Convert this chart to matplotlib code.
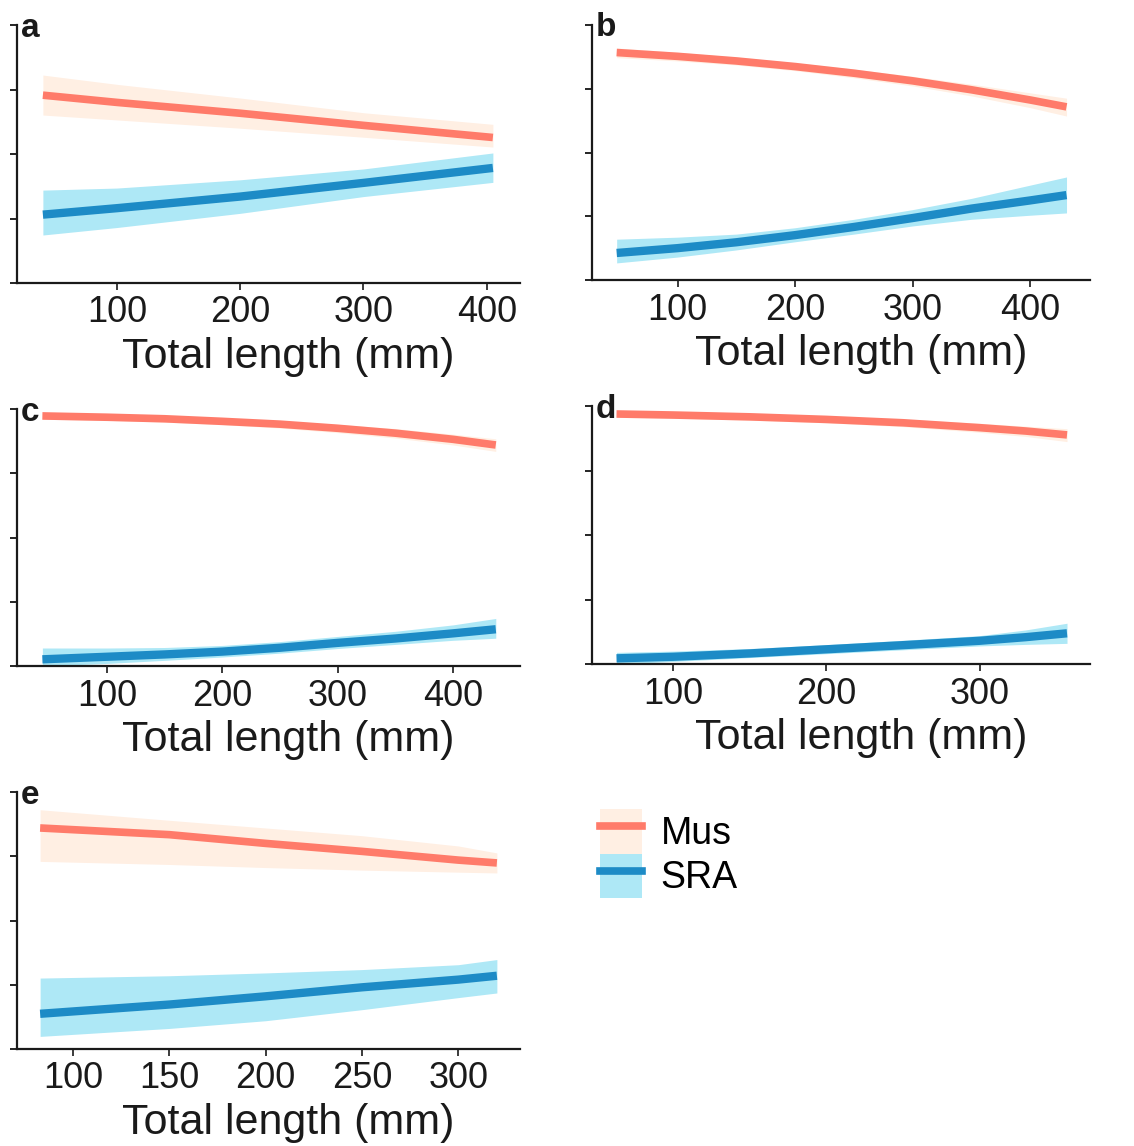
# -*- coding: utf-8 -*-
# Predicted proportion of Mus vs SRA along fish total length, five panels
import matplotlib.pyplot as plt
from matplotlib.patches import Patch
from matplotlib.lines import Line2D
from matplotlib.legend_handler import HandlerTuple

plt.rcParams['font.family'] = ['Liberation Sans', 'DejaVu Sans']

# panel a
a_len = [40, 100, 200, 300, 405]
a_mus = [0.728, 0.700, 0.658, 0.611, 0.564]
a_mus_lo = [0.651, 0.632, 0.600, 0.565, 0.527]
a_mus_hi = [0.806, 0.770, 0.717, 0.660, 0.615]
a_sra = [0.265, 0.290, 0.335, 0.388, 0.446]
a_sra_lo = [0.186, 0.215, 0.270, 0.335, 0.390]
a_sra_hi = [0.360, 0.368, 0.400, 0.442, 0.504]

# panel b
b_len = [48, 100, 150, 200, 250, 300, 350, 400, 431]
b_mus = [0.892, 0.877, 0.859, 0.837, 0.811, 0.781, 0.746, 0.706, 0.679]
b_mus_lo = [0.872, 0.859, 0.843, 0.821, 0.793, 0.761, 0.722, 0.676, 0.643]
b_mus_hi = [0.910, 0.893, 0.874, 0.852, 0.827, 0.799, 0.768, 0.734, 0.713]
b_sra = [0.106, 0.125, 0.148, 0.176, 0.208, 0.243, 0.280, 0.312, 0.333]
b_sra_lo = [0.067, 0.090, 0.118, 0.150, 0.180, 0.212, 0.238, 0.254, 0.263]
b_sra_hi = [0.160, 0.168, 0.180, 0.205, 0.238, 0.276, 0.320, 0.372, 0.404]

# panel c
c_len = [44, 100, 150, 200, 250, 300, 350, 400, 437]
c_mus = [0.973, 0.968, 0.962, 0.952, 0.941, 0.925, 0.906, 0.882, 0.860]
c_mus_lo = [0.960, 0.956, 0.949, 0.939, 0.926, 0.908, 0.887, 0.860, 0.835]
c_mus_hi = [0.985, 0.980, 0.974, 0.965, 0.955, 0.940, 0.924, 0.902, 0.884]
c_sra = [0.026, 0.036, 0.045, 0.056, 0.071, 0.090, 0.107, 0.127, 0.143]
c_sra_lo = [0.000, 0.010, 0.022, 0.035, 0.050, 0.068, 0.084, 0.100, 0.108]
c_sra_hi = [0.070, 0.070, 0.072, 0.080, 0.095, 0.115, 0.135, 0.160, 0.185]

# panel d
d_len = [63, 100, 150, 200, 250, 300, 330, 357]
d_mus = [0.969, 0.965, 0.958, 0.948, 0.935, 0.916, 0.903, 0.888]
d_mus_lo = [0.956, 0.953, 0.945, 0.935, 0.920, 0.898, 0.882, 0.862]
d_mus_hi = [0.981, 0.977, 0.970, 0.960, 0.949, 0.933, 0.922, 0.912]
d_sra = [0.022, 0.028, 0.041, 0.057, 0.073, 0.090, 0.104, 0.119]
d_sra_lo = [0.000, 0.010, 0.025, 0.040, 0.055, 0.070, 0.076, 0.080]
d_sra_hi = [0.045, 0.050, 0.060, 0.075, 0.092, 0.110, 0.132, 0.158]

# panel e
e_len = [83, 150, 200, 250, 300, 320]
e_mus = [0.860, 0.834, 0.800, 0.769, 0.735, 0.724]
e_mus_lo = [0.730, 0.718, 0.706, 0.696, 0.688, 0.685]
e_mus_hi = [0.931, 0.890, 0.860, 0.830, 0.790, 0.763]
e_sra = [0.137, 0.173, 0.205, 0.240, 0.270, 0.285]
e_sra_lo = [0.049, 0.080, 0.110, 0.153, 0.200, 0.218]
e_sra_hi = [0.276, 0.285, 0.296, 0.309, 0.328, 0.348]

panel_names = ['a', 'b', 'c', 'd', 'e']
x_ticks = [[100, 200, 300, 400], [100, 200, 300, 400], [100, 200, 300, 400],
           [100, 200, 300], [100, 150, 200, 250, 300]]

MUS_LINE = '#FF7B6A'
MUS_BAND = '#FFEFE3'
SRA_LINE = '#1D8BC6'
SRA_BAND = '#AEE8F6'

W, H = 1134, 1146
fig = plt.figure(figsize=(W / 100, H / 100), dpi=100)


def px_axes(left, top, right, bottom):
    """Add axes placed by pixel edges (origin top-left)."""
    return fig.add_axes([left / W, 1 - bottom / H, (right - left) / W, (bottom - top) / H])


panels = [
    dict(box=(17, 25, 520, 283), xlim=(19, 427), x=a_len,
         mus=(a_mus, a_mus_lo, a_mus_hi), sra=(a_sra, a_sra_lo, a_sra_hi)),
    dict(box=(592, 25, 1090, 280), xlim=(27, 451), x=b_len,
         mus=(b_mus, b_mus_lo, b_mus_hi), sra=(b_sra, b_sra_lo, b_sra_hi)),
    dict(box=(17, 409, 520, 666), xlim=(22, 458), x=c_len,
         mus=(c_mus, c_mus_lo, c_mus_hi), sra=(c_sra, c_sra_lo, c_sra_hi)),
    dict(box=(592, 406, 1090, 664), xlim=(47, 372), x=d_len,
         mus=(d_mus, d_mus_lo, d_mus_hi), sra=(d_sra, d_sra_lo, d_sra_hi)),
    dict(box=(17, 792, 520, 1049), xlim=(71, 332), x=e_len,
         mus=(e_mus, e_mus_lo, e_mus_hi), sra=(e_sra, e_sra_lo, e_sra_hi)),
]

for name, ticks, p in zip(panel_names, x_ticks, panels):
    ax = px_axes(*p['box'])
    x = p['x']
    mus, mus_lo, mus_hi = p['mus']
    sra, sra_lo, sra_hi = p['sra']

    ax.fill_between(x, mus_lo, mus_hi, color=MUS_BAND, lw=0)
    ax.fill_between(x, sra_lo, sra_hi, color=SRA_BAND, lw=0)
    ax.plot(x, mus, color=MUS_LINE, lw=5.5, solid_capstyle='butt')
    ax.plot(x, sra, color=SRA_LINE, lw=6, solid_capstyle='butt')

    ax.set_xlim(*p['xlim'])
    ax.set_ylim(0, 1)
    ax.set_xticks(ticks)
    ax.set_yticks([0, 0.25, 0.5, 0.75, 1])
    ax.set_yticklabels([])
    ax.tick_params(axis='x', labelsize=26, length=5, width=1.2, pad=4, colors='#1a1a1a')
    ax.tick_params(axis='y', length=5, width=1.2)
    ax.set_xlabel('Total length (mm)', fontsize=31, labelpad=5, color='#1a1a1a')
    ax.xaxis.label.set_x(0.54)
    for side in ['top', 'right']:
        ax.spines[side].set_visible(False)
    for side in ['left', 'bottom']:
        ax.spines[side].set_linewidth(1.6)
        ax.spines[side].set_color('#1a1a1a')
    ax.text(0.008, 0.955, name, transform=ax.transAxes, fontsize=24,
            fontweight='bold', va='baseline', ha='left', color='#1a1a1a')

# legend: band patch with the fitted line drawn over it
handles = [
    (Patch(facecolor=MUS_BAND, edgecolor='none'), Line2D([], [], color=MUS_LINE, lw=5.5)),
    (Patch(facecolor=SRA_BAND, edgecolor='none'), Line2D([], [], color=SRA_LINE, lw=5.5)),
]
fig.legend(handles, ['Mus', 'SRA'], handler_map={tuple: HandlerTuple(ndivide=1, pad=0)},
           loc='upper left', bbox_to_anchor=(600 / W, 1 - 809 / H), frameon=False,
           fontsize=27, handlelength=1.12, handleheight=1.45, handletextpad=0.5,
           labelspacing=0.0, borderaxespad=0, borderpad=0)

fig.savefig('out.png', dpi=100, facecolor='white')
